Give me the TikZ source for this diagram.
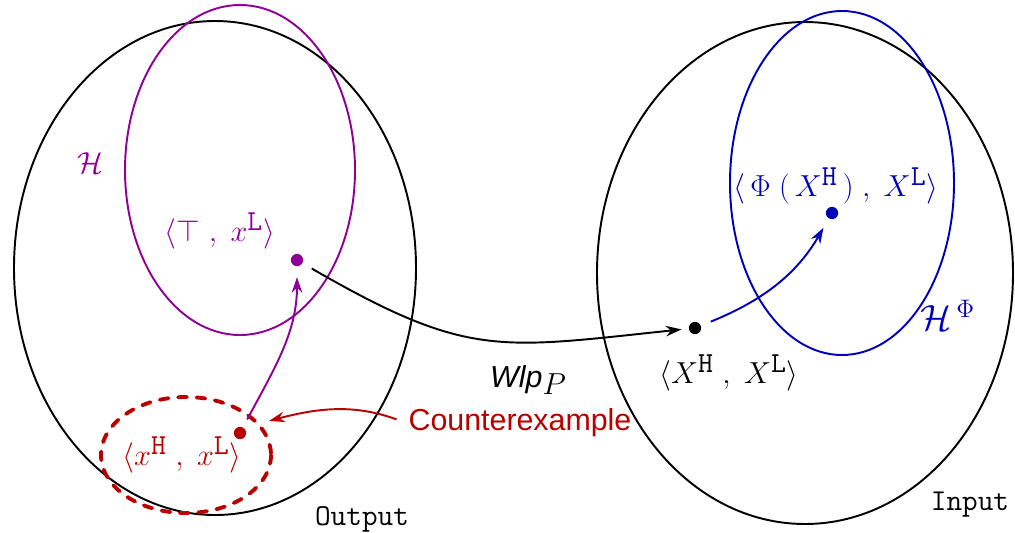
\documentclass[tikz,border=0pt]{standalone}
\usepackage{amsmath, amssymb}
\usepackage{fontspec}
\setsansfont{Liberation Sans}
\usetikzlibrary{arrows.meta, positioning}
\definecolor{hpurple}{RGB}{145, 0, 150}
\definecolor{phiblue}{RGB}{0, 0, 185}
\definecolor{cexred}{RGB}{185, 0, 0}
\newcommand{\lev}[1]{^{\mbox{\fontsize{16.5}{16.5}\selectfont\ttfamily #1}}}
\tikzset{
  space/.style={draw=black, line width=1.1pt},
  hset/.style={line width=1.1pt},
  cexset/.style={draw=cexred, line width=2.2pt, dash pattern=on 5pt off 5.5pt, line cap=round},
  dot/.style={circle, fill, inner sep=0pt, minimum size=7pt},
  lbl/.style={font=\fontsize{18.5}{22}\selectfont, inner sep=1pt},
  arrow/.style={-{Stealth[length=9pt, width=6pt, inset=3pt]}, line width=1.1pt},
}

\begin{document}
\begin{tikzpicture}[x=0.02cm, y=-0.02cm]

  \useasboundingbox (0,0) rectangle (1015,532);

  % ── Spaces ──
  \draw[space] (215,268) ellipse [x radius=201, y radius=247];
  \draw[space] (805,273) ellipse [x radius=208, y radius=251];
  \draw[hset, hpurple] (240,170) ellipse [x radius=115, y radius=165];
  \draw[hset, phiblue] (842,183) ellipse [x radius=112, y radius=172];
  \draw[cexset] (186,455) ellipse [x radius=85, y radius=58];

  % ── States ──
  \node[dot, hpurple] (top) at (297,260) {};
  \node[dot, cexred]  (cex) at (240,433) {};
  \node[dot, black]   (inp) at (695,328) {};
  \node[dot, phiblue] (phi) at (832,213) {};

  % ── Labels ──
  \node[lbl, hpurple] (hlbl)   at (90,163)  {$\mathcal{H}$};
  \node[lbl, hpurple] (toplbl) at (220,231) {$\langle \top\;,\; x\lev{L}\rangle$};
  \node[lbl, cexred]  (cexlbl) at (182,455) {$\langle x\lev{H}\;,\; x\lev{L}\rangle$};
  \node[lbl, black]   (inplbl) at (729,373) {$\langle X\lev{H}\;,\; X\lev{L}\rangle$};
  \node[lbl, phiblue] (philbl) at (836,186) {$\langle\, \Phi\;(\,X\lev{H}\,)\;,\; X\lev{L}\rangle$};
  \node[lbl, phiblue, font=\huge] (hphi) at (948,315) {$\mathcal{H}^{\,\Phi}$};
  \node[lbl, cexred, font=\LARGE\sffamily] (cextxt) at (520,423) {Counterexample};
  \node[lbl] (wlp) at (528,380) {{\sffamily\itshape\LARGE Wlp}\raisebox{-0.45ex}{$P$}};
  \node[lbl, font=\LARGE\ttfamily] (outlbl) at (362,519) {Output};
  \node[lbl, font=\LARGE\ttfamily] (inlbl)  at (970,505) {Input};

  % ── Arrows ──
  \coordinate (cexhit) at (269,421);
  \draw[arrow, hpurple, shorten <=5pt, shorten >=6pt] (cex) to[out=62, in=-90] (top);
  \draw[arrow, black, shorten <=6pt, shorten >=4pt] (top) to[out=-30, in=186, looseness=1.25] (inp);
  \draw[arrow, phiblue, shorten <=6pt, shorten >=6pt] (inp) to[out=22, in=-120] (phi);
  \draw[arrow, cexred, shorten <=6pt] (cextxt.west) to[out=160, in=15] (cexhit);

\end{tikzpicture}
\end{document}
